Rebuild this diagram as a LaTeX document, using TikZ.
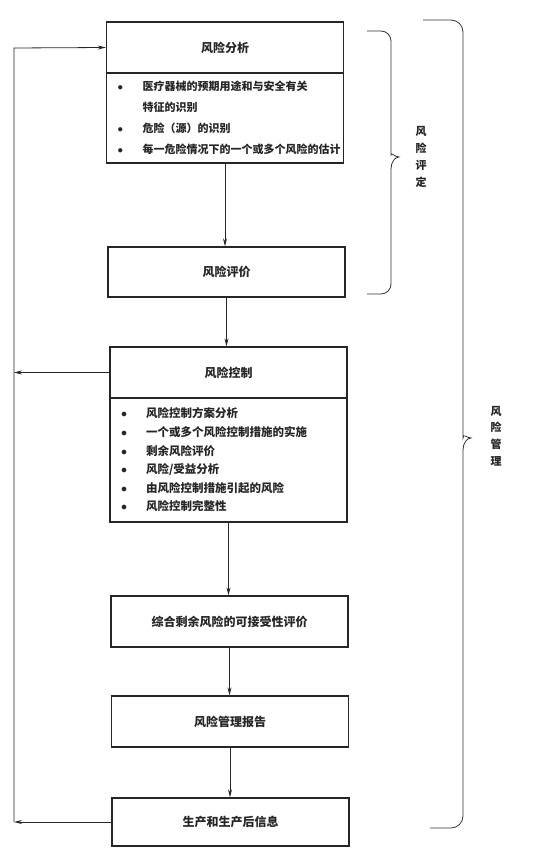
\documentclass[tikz,border=0pt]{standalone}
\usepackage{fontspec}
\newfontfamily\cjk{Noto Sans CJK SC}
\usetikzlibrary{arrows.meta}
\newcommand\bul{\makebox[25pt][l]{$\bullet$}}
\begin{document}
\begin{tikzpicture}[x=1pt,y=-1pt]
  \tikzstyle{box}=[draw=black!85, line width=1.3pt, minimum width=237pt, inner sep=0pt, text=black!85, font=\cjk\bfseries\fontsize{12}{14}\selectfont]
  \tikzstyle{list}=[box, text width=215pt, inner xsep=11pt, align=left]
  \tikzstyle{arr}=[draw=black!85, line width=0.8pt, -{Stealth[length=8pt,width=4pt]}]
  \tikzstyle{brace}=[draw=black!80, line width=0.8pt]
  \tikzstyle{side}=[text=black!85, align=center, font=\cjk\bfseries\fontsize{11}{16.7}\selectfont]

  \useasboundingbox (0,0) rectangle (552,853);

  \node[box, minimum height=51pt] (ana) at (225,47.5) {风险分析};
  \node[list, minimum height=90pt, font=\cjk\bfseries\fontsize{11}{21}\selectfont] (analist) at (225,118)
    {\bul 医疗器械的预期用途和与安全有关\\
     \hspace*{25pt}特征的识别\\
     \bul 危险（源）的识别\\
     \bul 每一危险情况下的一个或多个风险的估计};
  \node[box, minimum height=50pt] (eva) at (226.5,272) {风险评价};
  \node[box, minimum height=51pt] (ctl) at (228.5,372.5) {风险控制};
  \node[list, minimum height=124pt, font=\cjk\bfseries\fontsize{11.5}{18.6}\selectfont] (ctllist) at (228.5,460)
    {\bul 风险控制方案分析\\
     \bul 一个或多个风险控制措施的实施\\
     \bul 剩余风险评价\\
     \bul 风险/受益分析\\
     \bul 由风险控制措施引起的风险\\
     \bul 风险控制完整性};
  \node[box, minimum height=51pt] (acc) at (229.5,621.5) {综合剩余风险的可接受性评价};
  \node[box, minimum height=51pt] (rep) at (230,721.5) {风险管理报告};
  \node[box, minimum height=48pt] (info) at (230.5,822) {生产和生产后信息};

  % main flow
  \draw[arr] (analist.south) -- (analist.south |- eva.north);
  \draw[arr] (eva.south) -- (eva.south |- ctl.north);
  \draw[arr] (ctllist.south) -- (ctllist.south |- acc.north);
  \draw[arr] (acc.south) -- (acc.south |- rep.north);
  \draw[arr] (rep.south) -- (rep.south |- info.north);

  % feedback
  \coordinate (fbtop) at (14,48);
  \coordinate (fbbot) at (14,822);
  \draw[arr] (ctl.west) -- (ctl.west -| fbtop);
  \draw[arr] (info.west) -- (fbbot);
  \draw[arr] (fbbot) -- (fbtop) -- (ana.west);

  % braces
  \draw[brace, rounded corners=10pt] (367,31) -- (391,31) -- (391,145)
    [sharp corners] .. controls (391,152) and (395,157) .. (399,157)
    .. controls (395,157) and (391,162) .. (391,169)
    [rounded corners=10pt] -- (391,294) -- (367,294);
  \node[side] (assess) at (421,157) {风\\险\\评\\定};

  \draw[brace, rounded corners=12pt] (423,20) -- (463,20) -- (463,426)
    [sharp corners] .. controls (463,433) and (467,438) .. (471,438)
    .. controls (467,438) and (463,443) .. (463,450)
    [rounded corners=12pt] -- (463,828) -- (430,828);
  \node[side] (manage) at (496,436) {风\\险\\管\\理};
\end{tikzpicture}
\end{document}
